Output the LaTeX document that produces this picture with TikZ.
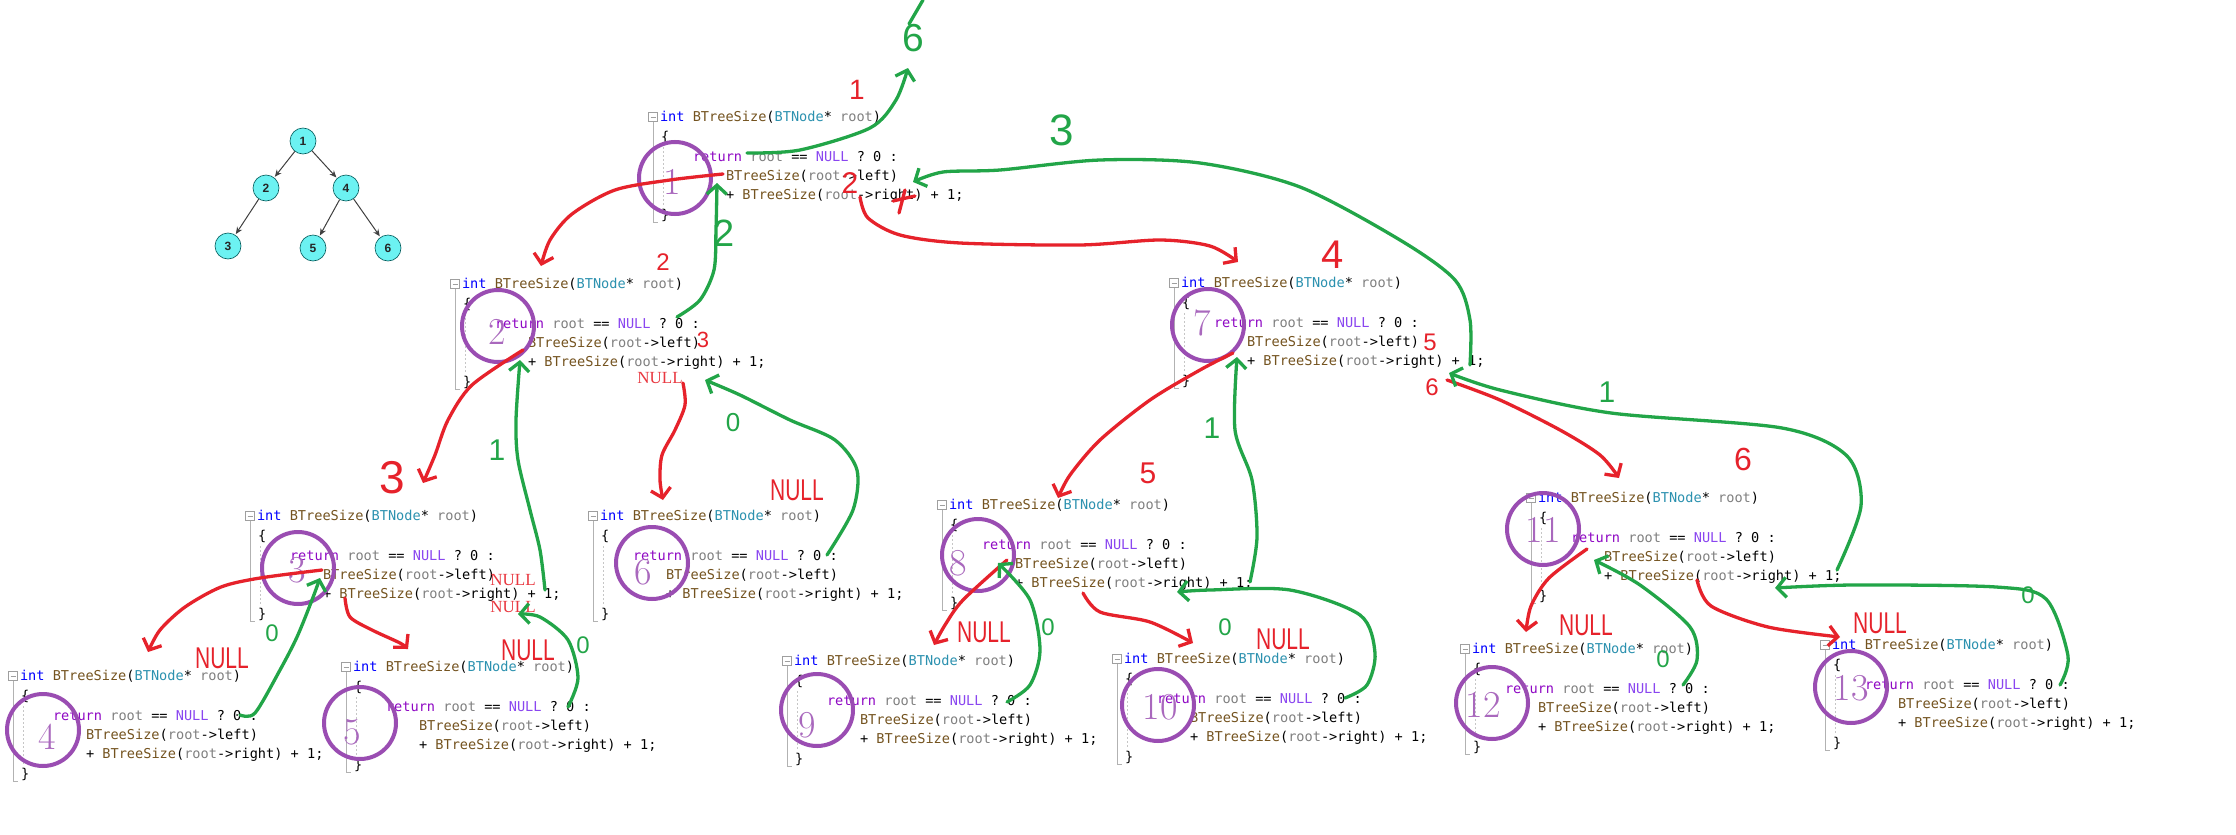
\documentclass[tikz,border=0pt]{standalone}
\usepackage{fontspec}
\usetikzlibrary{arrows.meta}
\newfontfamily\codefont{DejaVu Sans Mono}
\newfontfamily\handfont{Liberation Sans}
\newfontfamily\tnrfont{Liberation Serif}
\definecolor{ckw}{HTML}{0000FF}
\definecolor{cfn}{HTML}{74531F}
\definecolor{cty}{HTML}{2B91AF}
\definecolor{cpar}{HTML}{808080}
\definecolor{cret}{HTML}{8F08C4}
\definecolor{cnull}{HTML}{8A46F0}
\definecolor{rd}{HTML}{E6222B}
\definecolor{gn}{HTML}{22A548}
\definecolor{pu}{HTML}{9A4DB2}
\definecolor{tcy}{HTML}{6CF2F2}
\tikzset{
 x=1pt, y=-1pt,
 code/.style={anchor=base west, inner sep=0, outer sep=0, font=\codefont\fontsize{13.6}{16}\selectfont},
 codeblk/.pic={
  \node[draw=gray!75, line width=0.8pt, minimum size=9pt, inner sep=0] (-fold) at (5,0) {};
  \draw[gray!75, line width=0.8pt] (2.5,0) -- (7.5,0);
  \draw[gray!60, line width=1pt] (5,5) -- (5,105) -- (10,105);
  \draw[gray!45, dash pattern=on 2pt off 2pt, line width=0.7pt] (15,30) -- (15,88);
  \node[code] (-l0) at (12,4.5) {\textcolor{ckw}{int} \textcolor{cfn}{BTreeSize}(\textcolor{cty}{BTNode}* \textcolor{cpar}{root})};
  \node[code] (-l1) at (13,24.5) {\{};
  \node[code] (-l2) at (45,44.5) {\textcolor{cret}{return} \textcolor{cpar}{root} == \textcolor{cnull}{NULL} ? 0 :};
  \node[code] (-l3) at (78,63.5) {\textcolor{cfn}{BTreeSize}(\textcolor{cpar}{root}->left)};
  \node[code] (-l4) at (78,82.5) {+ \textcolor{cfn}{BTreeSize}(\textcolor{cpar}{root}->right) + 1;};
  \node[code] (-l5) at (13,102.5) {\}};
 },
 circ/.style={circle, draw=pu, line width=4pt, minimum size=72pt, inner sep=0},
 cnum/.style={text=pu!85, inner sep=0, font=\fontsize{38}{38}\selectfont},
 tnode/.style={circle, fill=tcy, draw=teal!70!black, line width=0.6pt, minimum size=26pt, inner sep=0, font=\handfont\bfseries\fontsize{12}{12}\selectfont, text=black!85},
 tarr/.style={draw=black!75, line width=1pt, -{Stealth[length=7pt,width=6pt]}, shorten >=1pt},
 rp/.style={draw=rd, line width=3.3pt, line cap=round, line join=round},
 gp/.style={draw=gn, line width=3.3pt, line cap=round, line join=round},
 tip/.style={-{Straight Barb[length=9pt,width=20pt]}},
 hr/.style={text=rd, inner sep=0, font=\handfont\fontsize{#1}{#1}\selectfont},
 hg/.style={text=gn, inner sep=0, font=\handfont\fontsize{#1}{#1}\selectfont},
 sr/.style={text=rd!90, inner sep=0, font=\tnrfont\fontsize{17}{17}\selectfont},
}
\newcommand\hnull{\scalebox{0.7}[1]{NULL}}
\begin{document}
\begin{tikzpicture}
\fill[white] (0,0) rectangle (2236,835);
\useasboundingbox (0,0) rectangle (2236,835);

% small tree
\node[tnode] (t1) at (303,141) {1};
\node[tnode] (t2) at (266,188) {2};
\node[tnode] (t4) at (346,188) {4};
\node[tnode] (t3) at (228,246) {3};
\node[tnode] (t5) at (313,248) {5};
\node[tnode] (t6) at (388,248) {6};
\draw[tarr] (t1) -- (t2);
\draw[tarr] (t1) -- (t4);
\draw[tarr] (t2) -- (t3);
\draw[tarr] (t4) -- (t5);
\draw[tarr] (t4) -- (t6);

% code blocks
\pic (b1) at (648,117) {codeblk};
\pic (b2) at (450,284) {codeblk};
\pic (b7) at (1169,283) {codeblk};
\pic (b3) at (245,516) {codeblk};
\pic (b6) at (588,516) {codeblk};
\pic (b8) at (937,505) {codeblk};
\pic (b11) at (1526,498) {codeblk};
\pic (b4) at (8,676) {codeblk};
\pic (b5) at (341,667) {codeblk};
\pic (b9) at (782,661) {codeblk};
\pic (b10) at (1112,659) {codeblk};
\pic (b12) at (1460,649) {codeblk};
\pic (b13) at (1820,645) {codeblk};

% purple circles
\node[circ] (c1) at (675,178) {};  \node[cnum] (n1) at (672,182) {1};
\node[circ] (c2) at (498,326) {};  \node[cnum] (n2) at (497,332) {2};
\node[circ] (c7) at (1208,325) {}; \node[cnum] (n7) at (1202,323) {7};
\node[circ] (c3) at (298,568) {};  \node[cnum] (n3) at (297,570) {3};
\node[circ] (c6) at (652,563) {};  \node[cnum] (n6) at (643,572) {6};
\node[circ] (c8) at (978,555) {};  \node[cnum] (n8) at (958,563) {8};
\node[circ] (c11) at (1543,529) {};\node[cnum] (n11) at (1543,530) {11};
\node[circ] (c4) at (43,730) {};   \node[cnum] (n4) at (47,737) {4};
\node[circ] (c5) at (360,723) {};  \node[cnum] (n5) at (352,732) {5};
\node[circ] (c9) at (817,710) {};  \node[cnum] (n9) at (807,725) {9};
\node[circ] (c10) at (1158,705) {};\node[cnum] (n10) at (1160,707) {10};
\node[circ] (c12) at (1492,703) {};\node[cnum] (n12) at (1483,705) {12};
\node[circ] (c13) at (1851,687) {};\node[cnum] (n13) at (1851,688) {13};

% ---- labels
\node[hg=39] (g6) at (913,38) {6};
\draw[gp] (909,24) -- (923,0);
\node[hr=28] (r1) at (857,90) {1};
\node[hr=30] (r2a) at (850,183) {2};
\node[hg=38] (g2) at (724,233) {2};
\node[hg=44] (g3) at (1062,130) {3};
\node[hr=40] (r4) at (1333,255) {4};
\node[hr=24] (r2b) at (663,262) {2};
\node[hr=22] (r3a) at (703,340) {3};
\node[sr] (ns1) at (660,378) {NULL};
\node[hg=26] (g0a) at (733,423) {0};
\node[hr=30] (nh1) at (797,490) {\hnull};
\node[hr=46] (r3b) at (392,478) {3};
\node[hg=30] (g1a) at (497,450) {1};
\node[sr] (ns2) at (513,580) {NULL};
\node[sr] (ns3) at (513,607) {NULL};
\node[hg=24] (g0b) at (583,645) {0};
\node[hr=30] (nh2) at (528,650) {\hnull};
\node[hr=30] (nh3) at (222,658) {\hnull};
\node[hg=24] (g0c) at (272,633) {0};
\node[hr=24] (r5a) at (1430,342) {5};
\node[hr=24] (r6a) at (1432,387) {6};
\node[hr=30] (r5b) at (1148,473) {5};
\node[hg=30] (g1b) at (1212,428) {1};
\node[hr=32] (r6b) at (1743,459) {6};
\node[hg=30] (g1c) at (1607,392) {1};
\node[hr=30] (nh4) at (984,632) {\hnull};
\node[hg=24] (g0d) at (1048,627) {0};
\node[hg=24] (g0e) at (1225,627) {0};
\node[hr=30] (nh5) at (1283,639) {\hnull};
\node[hr=30] (nh6) at (1586,625) {\hnull};
\node[hg=24] (g0f) at (1663,659) {0};
\node[hr=30] (nh7) at (1880,623) {\hnull};
\node[hg=24] (g0g) at (2028,595) {0};

% ---- red call strokes
\draw[rp] (905,190) -- (899,213);
\draw[rp] (893,201) -- (915,196);
\draw[rp,tip] plot[smooth] coordinates {(723,174) (670,180) (615,190) (572,214) (550,240) (541,266)};
\draw[rp,tip] plot[smooth] coordinates {(860,197) (868,218) (900,235) (960,243) (1080,245) (1160,240) (1210,246) (1238,262)};
\draw[rp,tip] plot[smooth] coordinates {(683,383) (685,405) (675,430) (662,455) (660,480) (663,500)};
\draw[rp,tip] plot[smooth] coordinates {(523,350) (472,385) (448,420) (435,455) (423,483)};
\draw[rp,tip] plot[smooth] coordinates {(345,598) (350,617) (372,630) (400,643) (408,649)};
\draw[rp,tip] plot[smooth] coordinates {(322,570) (260,578) (221,587) (185,607) (160,630) (148,652)};
\draw[rp,tip] plot[smooth] coordinates {(1233,353) (1200,370) (1150,400) (1100,440) (1070,475) (1058,498)};
\draw[rp,tip] plot[smooth] coordinates {(1447,380) (1500,400) (1560,430) (1600,455) (1619,478)};
\draw[rp,tip] plot[smooth] coordinates {(1007,560) (963,600) (945,625) (934,645)};
\draw[rp,tip] plot[smooth] coordinates {(1083,593) (1100,612) (1150,622) (1193,643)};
\draw[rp,tip] plot[smooth] coordinates {(1587,549) (1549,578) (1531,606) (1526,632)};
\draw[rp,tip] plot[smooth] coordinates {(1697,580) (1711,606) (1768,627) (1840,637)};

% ---- green return strokes
\draw[gp,tip] plot[smooth] coordinates {(747,153) (800,150) (870,128) (896,100) (908,68)};
\draw[gp,tip] plot[smooth] coordinates {(677,317) (700,300) (714,270) (716,230) (717,183)};
\draw[gp,tip] plot[smooth] coordinates {(1470,365) (1470,320) (1455,280) (1400,240) (1300,187) (1200,163) (1100,160) (1000,170) (943,172) (913,182)};
\draw[gp,tip] plot[smooth] coordinates {(827,555) (853,510) (857,470) (835,440) (790,420) (740,395) (705,380)};
\draw[gp,tip] plot[smooth] coordinates {(545,590) (540,550) (530,510) (518,460) (516,420) (520,360)};
\draw[gp,tip] plot[smooth] coordinates {(568,707) (578,678) (568,640) (540,617) (518,614)};
\draw[gp,tip] plot[smooth] coordinates {(240,715) (255,713) (280,670) (297,637) (312,600) (320,578)};
\draw[gp,tip] plot[smooth] coordinates {(1250,582) (1257,537) (1252,480) (1235,430) (1237,357)};
\draw[gp,tip] plot[smooth] coordinates {(1837,570) (1861,506) (1847,456) (1782,428) (1611,413) (1500,390) (1449,373)};
\draw[gp,tip] plot[smooth] coordinates {(1007,702) (1030,685) (1040,650) (1030,600) (998,563)};
\draw[gp,tip] plot[smooth] coordinates {(1345,698) (1367,685) (1375,653) (1360,615) (1290,590) (1210,590) (1177,592)};
\draw[gp,tip] plot[smooth] coordinates {(1683,685) (1697,660) (1690,627) (1640,585) (1594,560)};
\draw[gp,tip] plot[smooth] coordinates {(2060,685) (2068,656) (2046,599) (1996,587) (1854,585) (1775,588)};
\end{tikzpicture}
\end{document}
